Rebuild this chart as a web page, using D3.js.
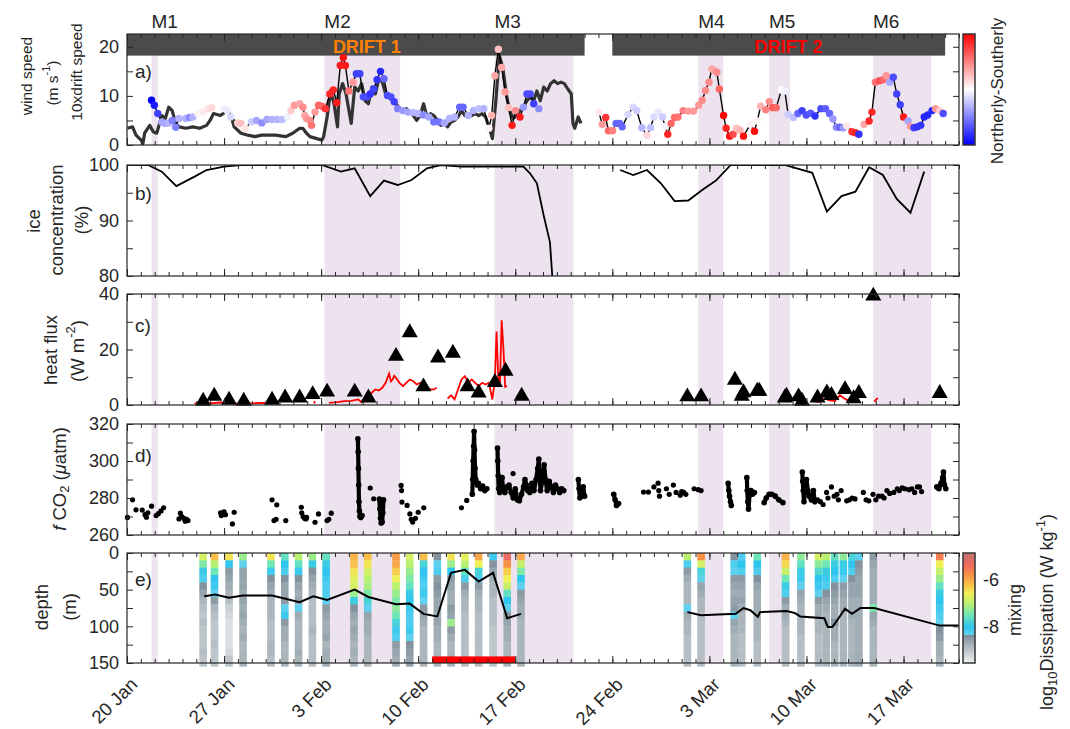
<!DOCTYPE html>
<html><head><meta charset="utf-8">
<script src="https://cdn.jsdelivr.net/npm/d3@7"></script>
<style>
body{margin:0;background:#fff}
text{font-family:"Liberation Sans",Arial,Helvetica,sans-serif;fill:#262626}
</style>
</head><body>
<svg id="c" width="1070" height="729"></svg>
<script>
// ---------------- DATA (time = days since 20 Jan 2015) ----------------
const majorDays = [0,7,14,21,28,35,42,49,56];
const xLabels = ["20 Jan","27 Jan","3 Feb","10 Feb","17 Feb","24 Feb","3 Mar","10 Mar","17 Mar"];

const shadeStart = [1.77,14.23,26.5,41.2,46.3,53.8];
const shadeEnd   = [2.22,19.7,32.2,43.0,47.8,58.0];
const stormNames = ["M1","M2","M3","M4","M5","M6"];

const driftStart = [0,35.0];
const driftEnd   = [33.0,59.0];
const driftNames = ["DRIFT 1","DRIFT 2"];
const driftLabelDay = [17.3,47.7];
const driftBarRange = [18.2,22.6];

const yTicksA=[0,5,10,15,20], yLabA=[0,10,20];
const yTicksB=[80,85,90,95,100], yLabB=[80,90,100];
const yTicksC=[0,10,20,30,40], yLabC=[0,20,40];
const yTicksD=[260,270,280,290,300,310,320], yLabD=[260,280,300,320];
const yTicksE=[0,25,50,75,100,125,150], yLabE=[0,50,100,150];
const epsTicks=[-6,-8];

// 10 x drift speed (m s-1)
const driftSpeed = [[0.03,3.4],[0.4,3.7],[0.65,2],[1.02,1],[1.15,0.3],[1.27,2.4],[1.64,4],[1.89,2.7],[2.14,2.4],[2.31,4],[2.51,6],[2.76,5.4],[3.01,7.7],[3.26,7],[3.51,4.4],[3.75,3.7],[4.25,3.4],[4.75,3.7],[5.24,3.4],[5.74,4],[5.99,5],[6.24,6.4],[6.73,6],[7.23,7],[7.48,6],[7.73,3.7],[8.22,2.4],[8.72,2],[9.22,1.7],[9.71,2],[10.71,2],[11.45,1.7],[11.95,2.4],[12.45,3.4],[12.69,3.4],[12.94,2.4],[13.19,1.7],[13.69,1.3],[14.06,1],[14.18,1.7],[14.43,5.7],[14.68,11],[14.93,8.4],[15.18,3.7],[15.3,10.4],[15.55,12.5],[15.8,10.4],[15.92,8.4],[16.17,4.4],[16.42,11.8],[16.67,11],[16.92,12.5],[17.17,9],[17.41,8.4],[17.66,11.8],[17.91,10.4],[18.16,13.5],[18.41,12.8],[18.65,10.4],[18.9,9.8],[19.15,9],[19.4,8.4],[19.65,7.4],[19.9,7],[20.14,7.4],[20.39,6.7],[20.64,6],[20.89,5],[21.14,6],[21.39,8.4],[21.63,5.7],[21.88,6.4],[22.13,6],[22.38,5],[22.63,4],[22.88,4.4],[23.12,3.7],[23.37,4.7],[23.62,5],[23.87,5.7],[24.12,7],[24.37,6],[24.61,5.7],[24.86,6],[25.11,6.4],[25.36,6],[25.61,6.4],[25.86,5.7],[26.1,3.7],[26.35,1.3],[26.6,9],[26.85,18.2],[27.1,15.8],[27.35,10.4],[27.59,7],[27.84,5.4],[28.09,6],[28.34,7],[28.59,7.7],[28.84,9],[29.08,9.8],[29.33,9],[29.56,11],[29.8,9],[30.05,11.8],[30.3,11],[30.55,12.5],[30.8,13.1],[31.05,12.5],[31.3,12.8],[31.54,12.5],[31.79,11.4],[32.04,10.4],[32.16,4.4],[32.29,3.4],[32.54,5.7],[32.74,4.4]];

// wind: [day, speed (m s-1), direction index (-1 northerly .. +1 southerly)]; null = gap
const wind = [[1.77,9.1,-1],[1.97,8.1,-0.9],[2.22,6.4,-0.75],[2.51,4.7,-0.35],[2.76,4.4,-0.35],[3.01,4.5,-0.3],[3.26,5.0,-0.5],[3.51,3.6,-0.5],[3.75,5.4,-0.3],[4.25,5.4,-0.3],[4.5,5.6,-0.45],[4.75,5.7,-0.3],[5.12,6.4,0.05],[5.49,6.7,0.08],[5.87,7.4,0.12],[6.11,7.6,0.15],
[6.5,null,null],
[6.98,7.4,-0.05],[7.23,7.0,-0.08],[7.48,5.7,-0.15],[7.98,4.5,0.2],[8.22,4.4,0.25],[8.52,3.4,0.1],[8.97,4.7,-0.2],[9.34,5.0,-0.35],[9.72,4.5,-0.45],[10.09,5.2,-0.35],[10.46,5.2,-0.3],[10.83,5.2,-0.3],[11.2,5.2,-0.25],[11.58,5.7,-0.05],[11.83,7.0,0.2],[12.07,8.1,0.4],[12.45,8.4,0.35],[12.69,7.7,0.45],[12.82,6.0,0.35],[12.94,5.4,0.4],[13.19,5.0,0.45],[13.31,4.0,0.55],[13.56,6.7,0.4],[13.81,8.1,0.6],[14.06,7.9,0.6],[14.31,7.4,0.8],[14.63,10.4,0.85],[14.88,11.2,0.85],[15.13,8.6,0.9],[15.38,16.2,0.9],[15.6,17.8,0.95],[15.75,16.2,0.9],[16.0,11.0,0.55],[16.3,12.8,0.4],[16.54,14.5,-0.75],[16.79,14.5,-0.75],[17.04,9.8,-0.7],[17.29,9.8,-0.7],[17.54,10.4,-0.8],[17.79,11.4,-0.75],[18.03,13.3,-0.8],[18.28,15.0,-0.85],[18.53,13.5,-0.6],[18.78,10.1,-0.7],[19.03,9.8,-0.7],[19.27,8.8,-0.75],[19.52,7.4,-0.5],[19.9,7.0,-0.4],[20.27,6.7,-0.35],[20.64,6.6,-0.3],[21.01,6.4,-0.3],[21.39,6.1,-0.45],[21.76,5.7,-0.35],[22.13,4.7,-0.55],[22.5,4.7,-0.55],[22.88,4.5,-0.35],[23.25,5.4,-0.3],[23.62,5.7,-0.3],[23.99,7.7,-0.6],[24.24,7.7,-0.6],[24.61,6.0,-0.3],[24.98,7.0,-0.3],[25.36,7.4,-0.25],[25.73,7.4,-0.3],[26.1,3.4,0.05],[26.3,6.0,0.3],[26.53,14.1,0.35],[26.78,19.5,0.25],[27.02,15.8,0.35],[27.27,10.8,0.4],[27.52,7.6,0.25],[27.77,4.0,0.9],[28.02,7.0,0.45],[28.34,5.7,0.9],[28.59,7.7,-0.4],[28.84,10.4,-0.7],[29.08,10.4,-0.7],[29.33,8.4,-0.75],[29.7,7.4,-0.45],
[31.0,null,null],
[34.03,6.7,0.1],[34.27,4.2,0.4],[34.52,5.6,0.8],[34.72,2.9,0.6],[35.02,2.9,0.5],[35.27,4.4,-0.6],[35.52,4.4,-0.6],[35.71,3.7,-0.6],[36.14,6.2,-0.15],[36.51,7.7,-0.15],[36.76,7.0,-0.2],[37.13,3.5,-0.3],[37.5,2.0,0.15],[37.75,3.5,-0.25],[38.0,5.7,-0.15],[38.3,6.7,-0.1],[38.62,5.7,-0.2],[38.8,3.8,-0.05],[39.0,2.2,0.85],[39.24,4.4,0.6],[39.49,5.6,0.6],[39.74,5.7,0.55],[40.11,7.0,0.5],[40.48,6.9,0.4],[40.86,6.9,0.4],[41.23,8.1,0.4],[41.48,9.1,0.45],[41.72,11.1,0.45],[41.97,12.8,0.45],[42.17,15.5,0.35],[42.34,15.2,0.35],[42.54,14.8,0.45],[42.72,11.4,0.6],[43.02,6.0,1.0],[43.21,3.4,0.85],[43.46,1.8,0.95],[43.71,2.2,0.7],[43.96,3.4,0.25],[44.21,3.0,0.3],[44.46,1.8,0.95],[44.95,4.2,0.05],[45.25,2.8,0.95],[45.45,4.9,0.05],[45.7,7.9,0.3],[46.07,7.2,0.5],[46.32,8.8,0.45],[46.57,7.6,0.65],[46.82,7.6,0.6],[47.19,11.2,0.0],[47.44,11.0,-0.05],[47.68,6.2,-0.2],[48.06,5.6,-0.25],[48.38,6.4,-0.6],[48.68,7.0,-0.75],[48.98,6.1,-0.7],[49.3,6.5,-0.65],[49.62,5.9,-0.8],[50.04,7.4,-0.7],[50.37,7.4,-0.65],[50.66,6.4,-0.6],[50.91,5.3,-0.4],[51.16,3.6,-0.45],[51.41,3.6,-0.6],[51.66,3.5,-0.4],[51.91,3.9,0.1],[52.28,2.7,0.8],[52.53,2.5,0.85],[52.78,2.2,-0.8],
[52.95,null,null],
[53.15,4.2,0.35],[53.52,4.9,0.85],[53.72,6.7,0.85],[53.97,12.8,0.55],[54.26,13.1,0.7],[54.51,13.3,0.6],[54.76,14.1,0.4],[55.01,12.8,-0.35],[55.26,13.8,-0.7],[55.51,10.4,-0.75],[55.76,8.2,-0.75],[56.0,5.7,0.9],[56.33,4.9,-0.35],[56.5,3.8,0.4],[56.75,3.5,-0.75],[57.0,3.7,-0.8],[57.24,4.0,-0.8],[57.49,5.7,-0.85],[57.74,6.1,-0.85],[58.06,7.0,-0.85],[58.31,7.4,0.4],[58.61,7.0,0.2],[58.86,6.4,-0.7]];

// ice concentration (%)
const ice = [[0.03,100],[1.52,100],[2.51,98.8],[3.56,96.2],[4.87,97.9],[5.74,99.1],[6.98,99.7],[8.22,100],[14.06,100],[15.43,98.8],[16.42,99.4],[17.54,94.4],[18.53,97.2],[19.52,96.4],[20.52,97.3],[21.63,99.4],[22.63,100],[24.12,99.7],[28.59,99.7],[29.06,98.5],[29.56,96.7],[30.05,90.9],[30.5,86.1],[30.67,80],[30.75,76],null,[35.57,99.1],[36.51,98.2],[37.5,99.1],[38.5,96.7],[39.49,93.5],[40.48,93.6],[41.48,95.5],[42.47,97.2],[43.54,100],[47.44,100],[48.3,99.4],[49.42,98.6],[50.47,91.6],[51.53,94.4],[52.53,95.2],[53.52,99.6],[54.51,98.2],[55.51,93.9],[56.5,91.4],[57.49,98.8]];

// heat flux (W m-2): triangles and red line
const heatTri = [[5.49,1.4],[6.29,3.2],[7.36,1.8],[8.42,1.4],[10.46,1.8],[11.4,2.6],[12.45,2.6],[13.39,3.8],[14.43,4.7],[16.42,4.7],[17.41,2.6],[19.4,17.6],[20.39,26.1],[21.38,6.6],[22.43,17],[23.5,18.7],[24.56,6.6],[25.36,4.4],[26.53,8.2],[27.3,12.2],[28.46,3.2],[40.41,3],[41.4,3],[43.84,9],[44.33,3.2],[44.46,4.5],[45.45,5],[45.6,5],[47.44,2.6],[47.56,3.2],[48.43,3],[48.68,1.4],[49.8,2.6],[50.47,4.4],[50.8,3.5],[51.78,5.6],[52.4,2.3],[52.78,4.2],[53.82,39.3],[58.61,4.2]];
const heatLine = [[4.87,0.6],[5.74,0.5],[6.73,0.9],[7.73,0.6],[8.72,0.5],[9.71,0.8],[10.46,0.6],[10.83,0.9],null,[13.49,1.4],[13.56,0.6],null,[14.56,0.8],[15.18,1.0],[15.67,1.4],[16.17,1.5],[16.67,2],[16.92,1.0],[17.17,1.8],[17.41,3.2],[17.66,4.5],[17.91,5.6],[18.16,5.2],[18.41,6.2],[18.65,8],[18.9,11.3],[19.03,8.5],[19.15,9.2],[19.27,10.5],[19.4,9.8],[19.65,8],[19.9,6.8],[20.14,8],[20.39,9.2],[20.64,8.6],[20.89,7.4],[21.14,8],[21.39,5.9],[21.63,6.2],[21.88,5.6],[22.13,5.6],[22.33,6.2],null,[23.12,2.3],[23.37,3.5],[23.62,2.0],[23.87,5.6],[24.12,9.2],[24.37,10.4],[24.61,8],[24.86,9.2],[25.11,8],[25.36,6.8],[25.61,8],[25.86,7.4],[26.1,8],[26.35,2],[26.53,9.2],[26.65,26.5],[26.78,9],[26.9,8.5],[27.02,30.5],[27.15,20],[27.27,6.6],[27.4,6.8],null,[49.42,1.4],[49.92,1.1],[50.29,2.3],[50.66,1.7],[51.04,1.4],[51.41,3.5],[51.66,2.6],[51.91,1.8],[52.28,2.3],null,[53.89,1.2],[54.14,2.6]];

// fCO2 (uatm): isolated samples and densely sampled tracks
const fco2Points = [[0.03,269.5],[0.4,279],[0.65,273.6],[1.1,273.5],[1.3,271],[1.4,269.6],[1.5,272],[1.77,275.6],[2.1,270.5],[2.26,271.5],[2.45,273],[2.64,274.7],[3.75,268.7],[3.85,271.8],[3.95,270],[4.1,269],[4.2,267.5],[4.3,268.5],[4.4,267.8],[6.75,272],[6.8,270.5],[6.9,271.5],[7.0,272.5],[7.1,271],[7.73,272.3],[7.6,266],[10.46,279],[10.8,276.3],[10.6,267.8],[10.75,268.5],[11.45,267.8],[12.57,275],[12.6,272],[12.7,270],[12.8,269],[12.9,268.7],[12.95,269.5],[13.56,266.9],[13.81,271.4],[14.43,267.8],[14.55,268.5],[14.73,271.8],[17.54,285.4],[17.79,279.6],[19.77,286.8],[19.8,284],[19.83,277.8],[20.2,276],[20.4,271.4],[20.5,268.5],[20.6,267],[20.8,269],[21.0,272.3],[21.4,274.7],[24.12,274.7],[24.5,278.7],[27.84,293.2],[37.25,283.2],[37.6,283.2],[38.0,286],[38.3,288],[38.35,284],[38.4,281],[38.9,285],[39.1,282],[39.4,287],[39.6,283],[39.9,281.5],[40.0,283.5],[40.15,283],[40.3,282],[40.9,285],[41.2,284.5],[41.4,284],[49.8,279],[50.0,278],[50.2,276.5],[50.45,283],[50.55,280],[50.8,286],[51.0,281],[51.2,282],[51.3,279],[51.5,284],[51.9,278.5],[52.1,279],[52.3,280],[52.5,279.5],[53.1,283],[53.3,279],[53.5,278.5],[53.8,282],[54.0,279],[54.2,281],[54.45,281],[54.6,280],[54.8,284],[55.0,282.5],[55.3,283],[55.55,285],[55.7,284],[55.9,285.5],[56.1,285],[56.4,284.5],[56.6,285],[56.8,283],[57.0,286],[57.15,286],[57.3,283.5]];
const fco2Tracks = [
 [[16.65,312],[16.67,305],[16.69,296],[16.71,287],[16.73,278],[16.76,273],[16.8,270],[16.86,269.5],[16.95,270.5]],
 [[18.2,279.5],[18.24,274],[18.28,269],[18.33,266.5],[18.4,267],[18.45,272],[18.5,279]],
 [[24.9,282],[24.93,290],[24.96,300],[25.0,308],[25.03,316],[25.06,306],[25.1,296],[25.15,290],[25.25,287],[25.35,288],[25.5,285],[25.65,286.5],[25.8,284],[25.95,285]],
 [[26.72,307],[26.74,300],[26.77,292],[26.8,285],[26.88,283],[26.95,286],[27.05,291],[27.12,285],[27.25,283],[27.4,286]],
 [[27.55,287],[27.7,283],[27.85,280],[28.0,285],[28.15,279],[28.3,278.5],[28.45,282],[28.6,286],[28.7,290],[28.8,287],[28.9,284],[29.05,283],[29.2,288],[29.35,284],[29.5,290],[29.62,296],[29.7,301],[29.76,292],[29.82,284],[29.95,289],[30.08,298],[30.18,290],[30.3,284],[30.45,289],[30.6,286],[30.75,283],[30.9,287],[31.05,285],[31.2,283],[31.35,285],[31.5,284]],
 [[32.55,290],[32.6,285],[32.66,280],[32.75,283],[32.9,286],[33.0,281]],
 [[35.1,282],[35.2,279],[35.3,276],[35.45,277]],
 [[43.35,288],[43.4,284],[43.45,281],[43.52,278],[43.58,276]],
 [[44.7,291],[44.73,284],[44.77,278],[44.82,274],[44.9,282],[45.0,284],[45.1,282],[45.25,283]],
 [[45.95,277.5],[46.1,280],[46.3,282],[46.5,282],[46.75,281],[47.0,279],[47.3,277.5]],
 [[48.7,294],[48.73,289],[48.77,284],[48.82,278],[48.9,285],[49.0,290],[49.1,284],[49.2,281],[49.35,279],[49.5,284],[49.6,278]],
 [[58.4,286],[58.55,285],[58.7,288],[58.82,291],[58.88,294],[58.95,287],[59.05,285]]
];

// dissipation profiles: log10(eps) in 10 m bins (0-10 ... 140-150 m)
const stripDays = [5.49,6.31,7.36,8.37,10.38,11.38,12.37,13.37,14.36,16.37,17.36,19.4,20.39,21.39,22.38,23.37,24.37,25.36,26.4,27.42,28.41,40.41,41.4,43.79,44.33,45.45,47.49,48.6,49.87,50.42,51.04,51.66,52.28,52.78,53.82,58.61];
const stripEps = [
 [-6.8,-7.4,-7.9,-8.2,-8.4,-8.6,-8.8,-8.9,-9,-8.9,-9,-9,-9,-8.9,-9],
 [-6.2,-7,-7.5,-8,-8.1,-8.3,-8.5,-8.8,-8.9,-9,-9,-9,-8.9,-9,-9],
 [-6.5,-8,-8.5,-8.6,-8.7,-8.8,-8.9,-9.1,-9.2,-9.3,-9.3,-9.3,-9.3,-9.2,-9],
 [-7.2,-8.3,-8.6,-8.6,-8.6,-8.7,-8.6,-8.7,-8.6,-8.7,-8.8,-8.7,-8.8,-8.8,-8.8],
 [-6.5,-7.5,-8.1,-8.4,-8.6,-8.7,-8.8,-8.8,-8.8,-8.9,-8.9,-8.9,-8.8,-8.8,-8.9],
 [-7.6,-8,-8.2,-8.4,-8.6,-8.6,-8.5,-8.3,-8.1,-8.5,-8.7,-8.7,-8.8,-8.8,-8.8],
 [-7.0,-7.6,-8.1,-8.4,-8.6,-8.7,-8.6,-8.3,-8.7,-8.8,-8.8,-8.8,-8.8,-8.7,-8.8],
 [-7.2,-7.9,-8.4,-8.6,-8.7,-8.8,-8.9,-8.9,-8.9,-8.9,-8.8,-8.9,-8.9,-8.9,-8.9],
 [-7.6,-7.9,-8.0,-8.1,-8.2,-8.2,-8.3,-8.5,-8.6,-8.7,-8.7,-8.6,-8.8,-8.7,-8.7],
 [-6.1,-6.2,-6.5,-6.7,-6.8,-7.2,-7.9,-8.4,-8.6,-8.7,-8.6,-8.7,-8.8,-8.7,-8.8],
 [-6.2,-6.5,-6.8,-7.0,-7.1,-7.4,-7.8,-8.3,-8.6,-8.7,-8.7,-8.8,-8.8,-8.8,-8.8],
 [-5.9,-6.0,-6.3,-6.6,-7.0,-7.2,-7.4,-7.3,-7.5,-7.8,-8.1,-8.2,-8.5,-8.6,-8.7],
 [-6.8,-7.0,-7.2,-7.4,-7.6,-7.9,-8.0,-8.1,-8.2,-8.2,-8.1,-8.3,-8.4,-8.5,-8.6],
 [-6.2,-7.8,-8.0,-8.1,-8.2,-8.1,-8.3,-8.5,-8.6,-8.7,-8.8,-8.8,-8.8,-8.8,-8.8],
 [-8.4,-8.3,-8.2,-8.5,-8.4,-8.5,-8.6,-8.6,-8.7,-8.6,-8.7,-8.7,-8.8,-8.8,-8.8],
 [-6.5,-7.2,-8.0,-8.5,-8.6,-8.7,-8.7,-8.5,-8.6,-7.2,-8.5,-8.7,-8.8,-8.8,-8.8],
 [-6.7,-7.0,-7.6,-8.2,-8.5,-8.7,-8.8,-8.8,-8.9,-8.9,-8.9,-8.9,-8.9,-8.9,-8.9],
 [-6.0,-6.6,-7.8,-8.2,-8.5,-8.7,-8.8,-8.8,-8.9,-8.9,-8.9,-8.9,-8.9,-8.9,-8.9],
 [-8.1,-8.4,-8.6,-8.7,-8.8,-8.8,-8.9,-8.9,-8.9,-8.9,-9.0,-9.0,-9.0,-9.0,-9.0],
 [-5.3,-5.8,-6.3,-6.6,-6.9,-7.6,-8.0,-8.3,-8.5,-8.6,-8.7,-8.7,-8.8,-8.8,-8.8],
 [-6.0,-6.9,-7.4,-8.0,-8.3,-8.5,-8.6,-8.7,-8.7,-8.8,-8.8,-8.8,-8.8,-8.8,-8.8],
 [-7.0,-8.2,-8.5,-8.7,-8.8,-8.8,-8.8,-8.3,-8.7,-8.8,-8.8,-8.9,-8.9,-8.9,-8.9],
 [-5.8,-6.8,-7.8,-8.3,-8.6,-8.7,-8.8,-8.8,-8.9,-8.9,-8.9,-8.9,-8.9,-8.9,-8.9],
 [-8.4,-8.2,-8.3,-8.5,-8.6,-8.7,-8.6,-8.5,-8.3,-8.6,-8.7,-8.8,-8.8,-8.8,-8.8],
 [-8.2,-8.0,-8.2,-8.5,-8.6,-8.7,-8.6,-8.7,-8.8,-8.8,-8.8,-8.9,-8.9,-8.9,-8.9],
 [-7.5,-8.0,-8.2,-8.4,-8.6,-8.7,-8.7,-8.7,-8.8,-8.8,-8.8,-8.8,-8.9,-8.9,-8.9],
 [-6.1,-6.4,-6.9,-7.5,-7.9,-8.2,-8.5,-8.7,-8.7,-8.8,-8.9,-8.9,-8.9,-8.9,-8.9],
 [-7.3,-7.6,-7.9,-8.1,-8.3,-8.6,-8.7,-8.8,-8.8,-8.8,-8.8,-8.9,-8.9,-8.9,-8.9],
 [-6.8,-7.3,-7.7,-8.0,-8.1,-8.3,-8.5,-8.7,-8.7,-8.8,-8.8,-8.9,-8.9,-8.9,-8.9],
 [-7.0,-7.5,-7.9,-8.1,-8.2,-8.4,-8.6,-8.7,-8.8,-8.7,-8.8,-8.8,-8.8,-8.8,-8.8],
 [-7.6,-7.9,-8.0,-8.2,-8.4,-8.5,-8.6,-8.7,-8.7,-8.4,-8.7,-8.7,-8.8,-8.8,-8.8],
 [-7.3,-7.9,-8.1,-8.3,-8.5,-8.6,-8.7,-8.7,-8.8,-8.8,-8.8,-8.8,-8.8,-8.8,-8.8],
 [-7.8,-8.0,-8.2,-8.4,-8.6,-8.6,-8.7,-8.7,-8.7,-8.8,-8.8,-8.8,-8.8,-8.8,-8.8],
 [-8.3,-8.4,-8.5,-8.6,-8.6,-8.6,-8.7,-8.7,-8.7,-8.7,-8.7,-8.7,-8.7,-8.7,-8.7],
 [-8.5,-8.6,-8.7,-8.7,-8.7,-8.7,-8.7,-7.4,-8.6,-8.7,-8.8,-8.8,-8.8,-8.8,-8.8],
 [-5.6,-6.6,-6.9,-7.2,-7.6,-7.9,-8.0,-8.1,-8.2,-8.3,-8.4,-8.5,-8.7,-8.7,-8.8]
];
// mixed layer depth (m)
const mld = [[5.57,59],[6.36,56.6],[7.36,61],[8.35,58],[10.46,58],[12.45,67],[13.44,59],[14.43,64],[16.42,50],[17.41,60],[19.4,70],[20.39,69],[21.38,83],[22.38,86.5],[23.37,27],[24.37,23],[25.36,39],[26.4,27],[27.42,89],[28.41,83],null,[40.41,80.6],[41.4,85],[43.9,83],[44.46,75],[44.95,78],[45.5,87],[45.65,80.6],[47.56,79],[48.18,82],[48.55,86.5],[50.29,89],[50.54,101],[50.86,101],[51.28,90],[51.78,76],[52.28,83],[52.9,75],[53.89,75],[58.61,99],[59.98,99]];
const redBarDays = [22.0,28.0];
const redBarDepth = [141,150];

// ---------------- DRAWING ----------------
const svg = d3.select('#c');
const BASE = Date.UTC(2015,0,20);
const toDate = d => new Date(BASE + d*864e5);
const X0 = 127, X1 = 959;
const x = d3.scaleUtc().domain([toDate(0), toDate(60)]).range([X0, X1]);
const xd = d => x(toDate(d));
const AX = '#262626';
const SHADE = '#ece3ee';
const TICKFS = 18;

const panels = {
  a:{top:34,bottom:145,dom:[0,22.6],ticks:yTicksA,labs:yLabA,letterDy:37},
  b:{top:165,bottom:276,dom:[80,100],ticks:yTicksB,labs:yLabB,letterDy:28},
  c:{top:294,bottom:405,dom:[0,40],ticks:yTicksC,labs:yLabC,letterDy:31},
  d:{top:424,bottom:535,dom:[260,320],ticks:yTicksD,labs:yLabD,letterDy:31},
  e:{top:553,bottom:663,dom:[0,150],ticks:yTicksE,labs:yLabE,letterDy:26,inv:true}
};
Object.values(panels).forEach(p=>{
  p.y = d3.scaleLinear().domain(p.dom).range(p.inv?[p.top,p.bottom]:[p.bottom,p.top]);
});
const layers = {};
Object.entries(panels).forEach(([k,p])=>{
  const g = svg.append('g');
  g.append('clipPath').attr('id','clip'+k).append('rect')
    .attr('x',X0).attr('y',p.top).attr('width',X1-X0).attr('height',p.bottom-p.top);
  g.selectAll('rect.sh').data(shadeStart.map((s,i)=>[s,shadeEnd[i]])).join('rect')
    .attr('x',d=>xd(d[0])).attr('width',d=>xd(d[1])-xd(d[0]))
    .attr('y',p.top).attr('height',p.bottom-p.top).attr('fill',SHADE);
  layers[k] = {g, data: svg.append('g'), p};
});

const allDays = d3.range(0,61);
function drawAxes(p){
  const g = svg.append('g');
  const styleAx = s => { s.select('.domain').remove(); s.selectAll('line').attr('stroke',AX).attr('stroke-width',1); };
  g.append('g').attr('transform',`translate(0,${p.bottom})`)
    .call(d3.axisBottom(x).tickValues(allDays.map(toDate)).tickSizeInner(-4).tickSizeOuter(0).tickFormat('')).call(styleAx);
  g.append('g').attr('transform',`translate(0,${p.bottom})`)
    .call(d3.axisBottom(x).tickValues(majorDays.map(toDate)).tickSizeInner(-7).tickSizeOuter(0).tickFormat('')).call(styleAx);
  g.append('g').attr('transform',`translate(0,${p.top})`)
    .call(d3.axisTop(x).tickValues(allDays.map(toDate)).tickSizeInner(-4).tickSizeOuter(0).tickFormat('')).call(styleAx);
  g.append('g').attr('transform',`translate(0,${p.top})`)
    .call(d3.axisTop(x).tickValues(majorDays.map(toDate)).tickSizeInner(-7).tickSizeOuter(0).tickFormat('')).call(styleAx);
  const la = g.append('g').attr('transform',`translate(${X0},0)`)
    .call(d3.axisLeft(p.y).tickValues(p.ticks).tickSizeInner(-6).tickSizeOuter(0).tickPadding(8)
      .tickFormat(v=>p.labs.includes(v)?String(v):'')).call(styleAx);
  la.selectAll('text').attr('font-size',TICKFS).attr('fill',AX).attr('font-family','"Liberation Sans",Arial,sans-serif');
  g.append('g').attr('transform',`translate(${X1},0)`)
    .call(d3.axisRight(p.y).tickValues(p.ticks).tickSizeInner(-6).tickSizeOuter(0).tickFormat('')).call(styleAx);
  g.append('rect').attr('x',X0).attr('y',p.top).attr('width',X1-X0).attr('height',p.bottom-p.top)
    .attr('fill','none').attr('stroke',AX).attr('stroke-width',1.2);
}

// ---- panel a
{
  const {data:g,p} = layers.a; const y=p.y;
  const wc = d3.scaleLinear().domain([-1,0,1]).range(['#0000ff','#ffffff','#ff0000']);
  g.selectAll('rect.drift').data(driftStart.map((s,i)=>[s,driftEnd[i]])).join('rect')
    .attr('x',d=>xd(d[0])).attr('width',d=>xd(d[1])-xd(d[0]))
    .attr('y',y(driftBarRange[1])).attr('height',y(driftBarRange[0])-y(driftBarRange[1])).attr('fill','#4b4b4b');
  g.selectAll('text.drift').data(driftNames).join('text')
    .attr('x',(d,i)=>xd(driftLabelDay[i])).attr('y',53).attr('text-anchor','middle')
    .attr('font-size',18).attr('font-weight','bold')
    .style('fill',(d,i)=>i===0?'#ff8000':'#ff0000').text(d=>d);
  g.append('path').datum(driftSpeed).attr('fill','none').attr('stroke','#333').attr('stroke-width',3.2)
    .attr('stroke-linejoin','round')
    .attr('d',d3.line().x(d=>xd(d[0])).y(d=>y(d[1])));
  g.append('path').datum(wind).attr('fill','none').attr('stroke','#000').attr('stroke-width',1.4)
    .attr('d',d3.line().defined(d=>d[1]!==null).x(d=>xd(d[0])).y(d=>y(d[1])));
  g.selectAll('circle').data(wind.filter(d=>d[1]!==null)).join('circle')
    .attr('cx',d=>xd(d[0])).attr('cy',d=>y(d[1])).attr('r',3.7).attr('fill',d=>wc(d[2]));
  drawAxes(p);
  svg.selectAll('text.storm').data(stormNames).join('text')
    .attr('x',(d,i)=>xd(shadeStart[i])).attr('y',28).attr('font-size',19).text(d=>d);
  const grad = svg.append('defs').append('linearGradient').attr('id','gw').attr('x1',0).attr('y1',0).attr('x2',0).attr('y2',1);
  grad.append('stop').attr('offset',0).attr('stop-color','#ff0000');
  grad.append('stop').attr('offset',0.5).attr('stop-color','#ffffff');
  grad.append('stop').attr('offset',1).attr('stop-color','#0000ff');
  svg.append('rect').attr('x',963).attr('y',p.top).attr('width',12).attr('height',p.bottom-p.top)
    .attr('fill','url(#gw)').attr('stroke','#333').attr('stroke-width',1.5);
  svg.append('text').attr('transform','translate(997,91) rotate(-90)').attr('text-anchor','middle')
    .attr('dominant-baseline','central').attr('font-size',17).text('Northerly-Southerly');
}
// ---- panel b
{
  const {data:g,p} = layers.b; const y=p.y;
  g.append('path').datum(ice).attr('clip-path','url(#clipb)').attr('fill','none').attr('stroke','#000').attr('stroke-width',1.8)
    .attr('d',d3.line().defined(d=>d).x(d=>xd(d[0])).y(d=>y(d[1])));
  drawAxes(p);
}
// ---- panel c
{
  const {data:g,p} = layers.c; const y=p.y;
  g.append('path').datum(heatLine).attr('fill','none').attr('stroke','#ff0000').attr('stroke-width',1.8)
    .attr('d',d3.line().defined(d=>d).x(d=>xd(d[0])).y(d=>y(d[1])));
  const tri = d3.symbol(d3.symbolTriangle).size(112)();
  g.selectAll('path.tri').data(heatTri).join('path').attr('d',tri)
    .attr('transform',d=>`translate(${xd(d[0])},${y(d[1])})`).attr('fill','#000');
  drawAxes(p);
}
// ---- panel d
{
  const {data:g,p} = layers.d; const y=p.y;
  g.selectAll('path.trk').data(fco2Tracks).join('path').attr('fill','none').attr('stroke','#000')
    .attr('stroke-width',4.2).attr('stroke-linecap','round').attr('stroke-linejoin','round')
    .attr('d',d3.line().x(d=>xd(d[0])).y(d=>y(d[1])));
  g.selectAll('circle.tp').data(fco2Tracks.flat()).join('circle').attr('class','tp')
    .attr('cx',d=>xd(d[0])).attr('cy',d=>y(d[1])).attr('r',2.8).attr('fill','#000');
  g.selectAll('circle.pt').data(fco2Points).join('circle').attr('class','pt')
    .attr('cx',d=>xd(d[0])).attr('cy',d=>y(d[1])).attr('r',2.6).attr('fill','#000');
  drawAxes(p);
}
// ---- panel e
const dissDom = [-9.5,-8.36,-8.34,-8.0,-7.5,-7.0,-6.6,-6.2,-5.8,-5.4,-4.9];
const dissRng = ['#eef2f2','#7f8f9a','#66d2ee','#2ec6ee','#6fe6b6','#b8f070','#f0f058','#f8c048','#f89048','#f06a5a','#c47272'];
const dissColor = d3.scaleLinear().domain(dissDom).range(dissRng).clamp(true);
{
  const {data:g,p} = layers.e; const y=p.y;
  const cells = [];
  stripDays.forEach((sd,i)=>stripEps[i].forEach((v,j)=>cells.push({d:sd,j,v})));
  g.selectAll('rect.cell').data(cells).join('rect')
    .attr('x',c=>xd(c.d)-3.8).attr('width',7.6)
    .attr('y',c=>y(c.j*10)).attr('height',c=>y((c.j+1)*10 + (c.j===14?4.5:0))-y(c.j*10)+0.4)
    .attr('fill',c=>dissColor(c.v));
  g.append('rect').attr('x',xd(redBarDays[0])).attr('width',xd(redBarDays[1])-xd(redBarDays[0]))
    .attr('y',y(redBarDepth[0])).attr('height',y(redBarDepth[1])-y(redBarDepth[0])).attr('fill','#ff0000');
  g.append('path').datum(mld).attr('fill','none').attr('stroke','#000').attr('stroke-width',2)
    .attr('d',d3.line().defined(d=>d).x(d=>xd(d[0])).y(d=>y(d[1])));
  drawAxes(p);
  const cb = d3.scaleLinear().domain([-9.52,-4.88]).range([p.bottom,p.top]);
  const gr = svg.append('defs').append('linearGradient').attr('id','ge').attr('x1',0).attr('y1',1).attr('x2',0).attr('y2',0);
  dissDom.forEach((v,i)=>gr.append('stop').attr('offset',(v+9.52)/(9.52-4.88)).attr('stop-color',dissRng[i]));
  svg.append('rect').attr('x',963).attr('y',p.top).attr('width',12).attr('height',p.bottom-p.top)
    .attr('fill','url(#ge)').attr('stroke','#333').attr('stroke-width',1.5);
  svg.selectAll('text.cbt').data(epsTicks).join('text').attr('x',983).attr('y',v=>cb(v))
    .attr('dominant-baseline','central').attr('font-size',TICKFS).text(v=>String(v));
  svg.append('text').attr('transform','translate(1015,610) rotate(-90)').attr('text-anchor','middle')
    .attr('dominant-baseline','central').attr('font-size',18).text('mixing');
  const t = svg.append('text').attr('transform','translate(1047,612) rotate(-90)').attr('text-anchor','middle')
    .attr('dominant-baseline','central').attr('font-size',18);
  t.append('tspan').text('log');
  t.append('tspan').attr('font-size',13).attr('dy',5).text('10');
  t.append('tspan').attr('dy',-5).text('Dissipation (W kg');
  t.append('tspan').attr('font-size',13).attr('dy',-7).text('-1');
  t.append('tspan').attr('dy',7).text(')');
  svg.selectAll('text.xl').data(majorDays).join('text')
    .attr('transform',d=>`translate(${xd(d)+7},681) rotate(-45)`)
    .attr('text-anchor','end').attr('dominant-baseline','central').attr('font-size',18.5)
    .text((d,i)=>xLabels[i]);
}

['a','b','c','d','e'].forEach(k=>{
  const p = panels[k];
  svg.append('text').attr('x',135).attr('y',p.top+p.letterDy).attr('dominant-baseline','central')
    .attr('font-size',19).text(k+')');
});

function vtext(xp,yp,size,build){
  const t = svg.append('text').attr('transform',`translate(${xp},${yp}) rotate(-90)`)
    .attr('text-anchor','middle').attr('dominant-baseline','central').attr('font-size',size);
  build(t);
}
vtext(26,76,15.5,t=>t.text('wind speed'));
vtext(52,83,15.5,t=>{t.append('tspan').text('(m s');t.append('tspan').attr('font-size',11).attr('dy',-6).text('-1');t.append('tspan').attr('dy',6).text(')');});
vtext(76,72,15.5,t=>t.text('10xdrift speed'));
vtext(33,221,18.5,t=>t.text('ice'));
vtext(56,220,18.5,t=>t.text('concentration'));
vtext(81,220,18.5,t=>t.text('(%)'));
vtext(50,350,18.5,t=>t.text('heat flux'));
vtext(77,351,18.5,t=>{t.append('tspan').text('(W m');t.append('tspan').attr('font-size',13).attr('dy',-7).text('-2');t.append('tspan').attr('dy',7).text(')');});
vtext(59,479,18.5,t=>{
  t.append('tspan').attr('font-style','italic').text('f');
  t.append('tspan').text(' CO');
  t.append('tspan').attr('font-size',13).attr('dy',5).text('2');
  t.append('tspan').attr('dy',-5).text(' (');
  t.append('tspan').attr('font-style','italic').text('μ');
  t.append('tspan').text('atm)');
});
vtext(41,607,18.5,t=>t.text('depth'));
vtext(69,607,18.5,t=>t.text('(m)'));
</script>
</body></html>
